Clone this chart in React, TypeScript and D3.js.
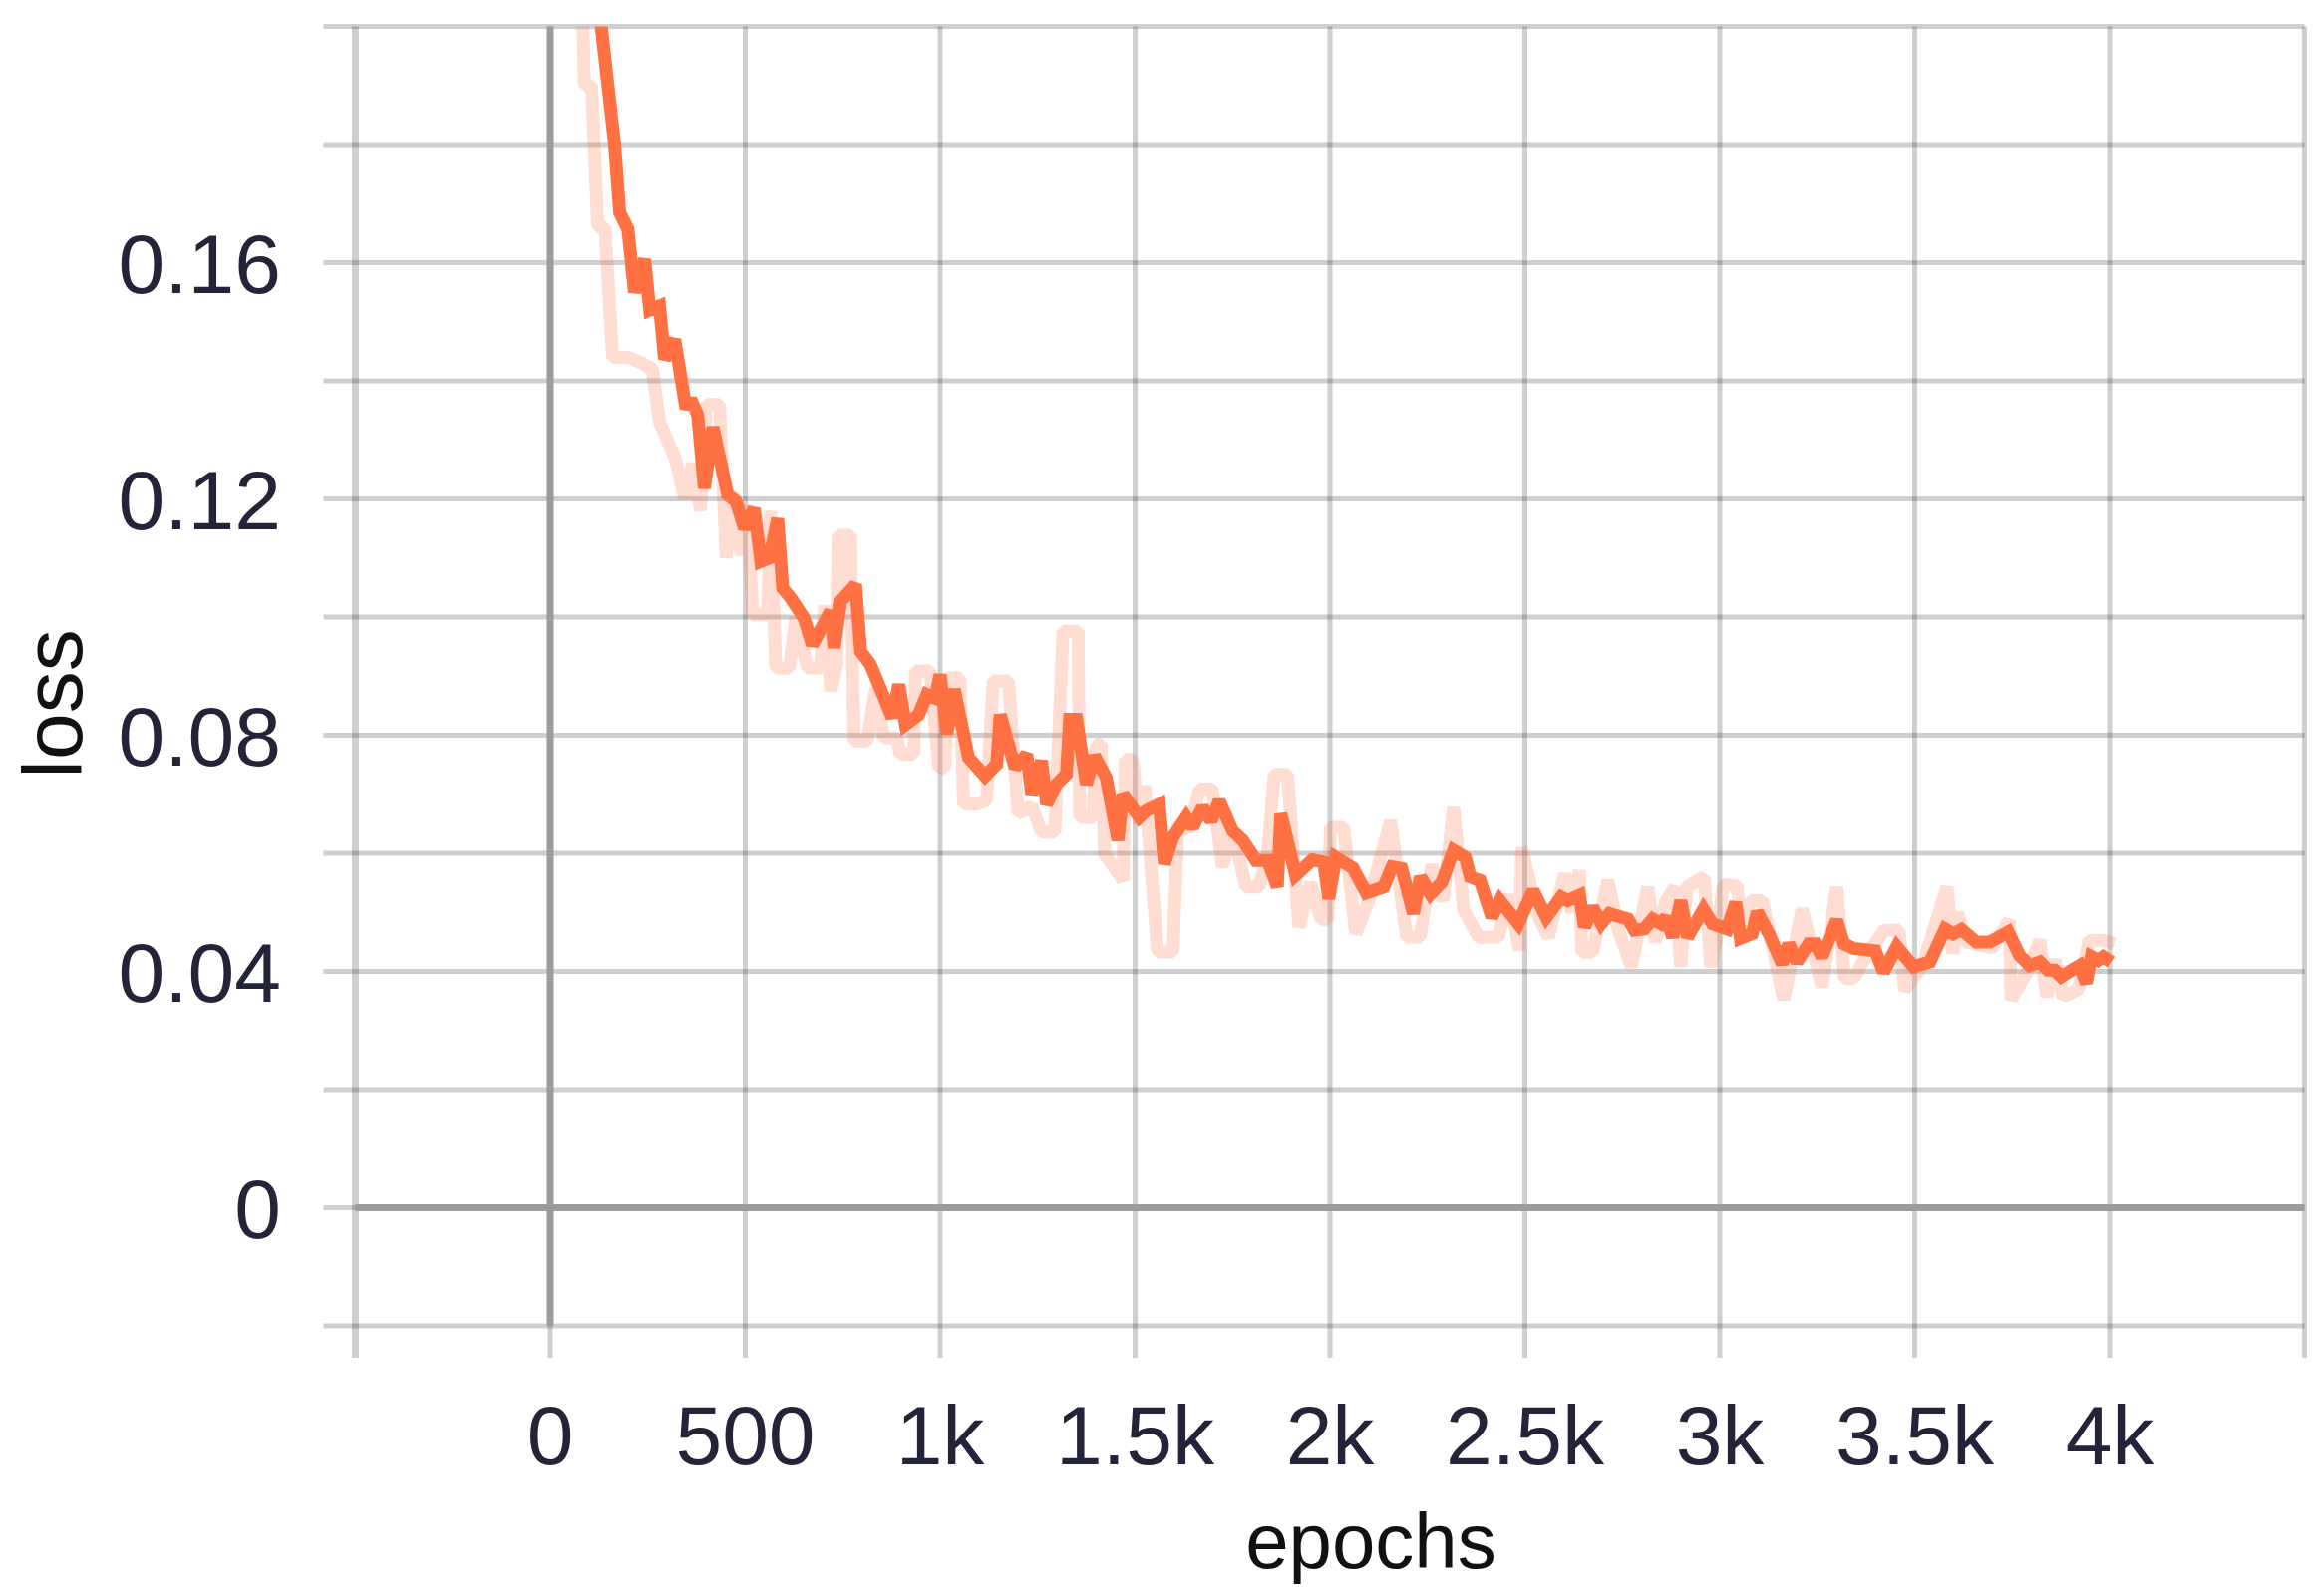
import React, { useRef, useEffect } from "react";
import * as d3 from "d3";

// smoothed training loss (the bold orange line)
const smoothEpochs = [
  112, 165, 178, 199, 216, 242, 255, 280, 293, 319, 348, 360, 378, 395, 417, 455, 476, 498, 523, 540,
  562, 583, 596, 617, 651, 672, 719, 728, 745, 783, 796, 821, 877, 894, 911, 945, 966, 987, 1000, 1017,
  1036, 1073, 1115, 1145, 1154, 1192, 1222, 1235, 1260, 1273, 1298, 1324, 1332, 1350, 1375, 1396, 1426, 1456, 1469, 1511,
  1528, 1562, 1575, 1597, 1631, 1648, 1673, 1695, 1716, 1750, 1776, 1810, 1840, 1865, 1874, 1912, 1955, 1984, 1997, 2015,
  2059, 2093, 2138, 2159, 2184, 2214, 2232, 2258, 2287, 2317, 2347, 2360, 2385, 2415, 2436, 2483, 2521, 2555, 2593, 2610,
  2640, 2653, 2674, 2696, 2717, 2747, 2764, 2781, 2806, 2828, 2849, 2862, 2879, 2900, 2917, 2958, 2981, 3019, 3041, 3053,
  3083, 3096, 3126, 3160, 3177, 3198, 3228, 3245, 3262, 3300, 3318, 3343, 3399, 3420, 3454, 3497, 3539, 3578, 3599, 3620,
  3658, 3693, 3740, 3769, 3795, 3821, 3842, 3859, 3876, 3902, 3923, 3940, 3953, 3970, 3983, 4004,
];
const smoothLoss = [
  0.211, 0.18, 0.1685, 0.1657, 0.155, 0.1606, 0.152, 0.1527, 0.1437, 0.147, 0.1353, 0.1369, 0.1342, 0.1218, 0.1322, 0.1207, 0.1196, 0.115, 0.1184, 0.1094,
  0.11, 0.1167, 0.1049, 0.1032, 0.0998, 0.0953, 0.101, 0.0948, 0.1027, 0.1055, 0.0942, 0.092, 0.083, 0.0886, 0.0818, 0.0835, 0.0869, 0.0863, 0.0903, 0.0802,
  0.0878, 0.0762, 0.0731, 0.0751, 0.0835, 0.0745, 0.0768, 0.07, 0.0757, 0.0683, 0.0717, 0.0734, 0.0827, 0.0827, 0.0717, 0.0765, 0.0728, 0.0622, 0.07, 0.0661,
  0.0672, 0.0683, 0.0582, 0.0627, 0.0661, 0.0644, 0.0678, 0.0655, 0.0689, 0.0638, 0.0622, 0.0588, 0.0588, 0.0543, 0.0667, 0.0563, 0.0589, 0.0585, 0.0523, 0.0593,
  0.0575, 0.0533, 0.0543, 0.0577, 0.0574, 0.0498, 0.056, 0.0531, 0.0551, 0.0605, 0.0593, 0.056, 0.0554, 0.0492, 0.052, 0.0481, 0.0537, 0.0492, 0.0526, 0.052,
  0.0529, 0.0475, 0.0509, 0.0481, 0.0498, 0.0492, 0.0489, 0.047, 0.0472, 0.0489, 0.0481, 0.0492, 0.0458, 0.052, 0.0458, 0.0505, 0.0481, 0.0472, 0.0517, 0.0456,
  0.0464, 0.0501, 0.0464, 0.0413, 0.0447, 0.0416, 0.0447, 0.0447, 0.0425, 0.0487, 0.0447, 0.0439, 0.0435, 0.0399, 0.0442, 0.0408, 0.0416, 0.0472, 0.0464, 0.0471,
  0.045, 0.045, 0.0467, 0.0427, 0.041, 0.0416, 0.0402, 0.0402, 0.0391, 0.0402, 0.041, 0.038, 0.0425, 0.0419, 0.0425, 0.0416,
];

// raw training loss (the faint band behind)
const rawEpochs = [
  70, 88, 106, 122, 140, 160, 200, 235, 262, 280, 300, 320, 345, 365, 385, 400, 434, 451, 468, 489,
  505, 519, 557, 565, 578, 613, 630, 659, 693, 704, 719, 735, 741, 770, 779, 813, 835, 855, 889, 897,
  932, 937, 974, 997, 1012, 1018, 1051, 1060, 1094, 1119, 1136, 1175, 1200, 1235, 1260, 1294, 1315, 1354, 1358, 1392,
  1400, 1413, 1422, 1469, 1475, 1494, 1510, 1524, 1558, 1597, 1610, 1640, 1665, 1699, 1724, 1750, 1784, 1818, 1840, 1857,
  1891, 1920, 1950, 1976, 1995, 2001, 2035, 2066, 2100, 2155, 2197, 2231, 2260, 2290, 2317, 2343, 2381, 2432, 2460, 2486,
  2492, 2530, 2560, 2602, 2620, 2640, 2646, 2674, 2713, 2740, 2773, 2815, 2835, 2862, 2885, 2900, 2915, 2960, 2977, 2990,
  3009, 3044, 3060, 3079, 3109, 3164, 3211, 3262, 3300, 3320, 3343, 3380, 3422, 3460, 3474, 3520, 3583, 3598, 3610, 3630,
  3700, 3743, 3747, 3790, 3821, 3838, 3860, 3880, 3920, 3947, 3983, 4012,
];
const rawLoss = [
  0.232, 0.19, 0.19, 0.166, 0.166, 0.144, 0.144, 0.143, 0.142, 0.133, 0.13, 0.127, 0.12, 0.126, 0.118, 0.136, 0.136, 0.11, 0.121, 0.1105,
  0.119, 0.1004, 0.1004, 0.118, 0.0914, 0.0914, 0.1, 0.0914, 0.0914, 0.102, 0.0875, 0.092, 0.1139, 0.1139, 0.079, 0.079, 0.088, 0.0796, 0.0796, 0.0768,
  0.0768, 0.0909, 0.0909, 0.0745, 0.0745, 0.0897, 0.0897, 0.0683, 0.0683, 0.069, 0.0892, 0.0892, 0.0667, 0.068, 0.0636, 0.0636, 0.0976, 0.0976, 0.0661, 0.0661,
  0.0785, 0.0785, 0.0599, 0.0554, 0.0759, 0.0759, 0.065, 0.0715, 0.0433, 0.0433, 0.065, 0.064, 0.0709, 0.0709, 0.0577, 0.064, 0.0543, 0.0543, 0.06, 0.0734,
  0.0734, 0.0475, 0.055, 0.0489, 0.0487, 0.0644, 0.0644, 0.0464, 0.052, 0.0655, 0.0458, 0.0458, 0.058, 0.052, 0.0678, 0.0504, 0.0458, 0.0458, 0.053, 0.0436,
  0.061, 0.05, 0.0458, 0.0565, 0.05, 0.0571, 0.0433, 0.0433, 0.0554, 0.047, 0.0408, 0.0543, 0.045, 0.052, 0.0543, 0.0408, 0.0543, 0.056, 0.0408, 0.045,
  0.0546, 0.0546, 0.045, 0.052, 0.052, 0.0352, 0.0506, 0.0374, 0.0543, 0.0388, 0.0388, 0.043, 0.047, 0.047, 0.0368, 0.041, 0.0543, 0.043, 0.05, 0.045,
  0.044, 0.0487, 0.0352, 0.04, 0.0453, 0.0357, 0.042, 0.0357, 0.037, 0.0453, 0.0453, 0.0447,
];

const xTickLabels = [0, 500, 1000, 1500, 2000, 2500, 3000, 3500, 4000];
const yTickLabels = [0, 0.04, 0.08, 0.12, 0.16];

export default function App() {
  const svgRef = useRef<SVGSVGElement>(null);

  useEffect(() => {
    const W = 2331, H = 1598;
    const plot = { left: 356.5, right: 2311.5, top: 26.6, bottom: 1330 };
    const font = "'Liberation Sans', Arial, Helvetica, sans-serif";

    const svg = d3.select(svgRef.current)
      .attr("width", W)
      .attr("height", H)
      .attr("viewBox", `0 0 ${W} ${H}`);
    svg.selectAll("*").remove();

    const x = d3.scaleLinear().domain([-500, 4500]).range([plot.left, plot.right]);
    const y = d3.scaleLinear().domain([-0.02, 0.2]).range([plot.bottom, plot.top]);

    svg.append("rect").attr("width", W).attr("height", H).attr("fill", "#fff");

    // grid (semi-transparent so crossings come out darker)
    const grid = svg.append("g").attr("stroke", "#000").attr("stroke-opacity", 0.19).attr("stroke-width", 5);
    grid.selectAll(".hgrid")
      .data(y.ticks(11))
      .join("line")
        .attr("class", "hgrid")
        .attr("x1", plot.left - 32)
        .attr("x2", plot.right)
        .attr("y1", d => y(d))
        .attr("y2", d => y(d));
    grid.selectAll(".vgrid")
      .data(x.ticks(10))
      .join("line")
        .attr("class", "vgrid")
        .attr("x1", d => x(d))
        .attr("x2", d => x(d))
        .attr("y1", plot.top)
        .attr("y2", plot.bottom + 32)
        .attr("stroke-width", d => (d === -500 ? 7 : 5));

    // zero lines
    svg.append("line")
      .attr("x1", plot.left).attr("x2", plot.right)
      .attr("y1", y(0)).attr("y2", y(0))
      .attr("stroke", "#9c9c9c").attr("stroke-width", 7);
    svg.append("line")
      .attr("x1", x(0)).attr("x2", x(0))
      .attr("y1", plot.top).attr("y2", plot.bottom)
      .attr("stroke", "#9c9c9c").attr("stroke-width", 7);

    // data
    svg.append("clipPath").attr("id", "plot-clip")
      .append("rect")
        .attr("x", plot.left).attr("y", plot.top)
        .attr("width", plot.right - plot.left).attr("height", plot.bottom - plot.top);

    const line = d3.line<[number, number]>()
      .x(d => x(d[0]))
      .y(d => y(d[1]));

    const raw = rawEpochs.map((e, i) => [e, rawLoss[i]] as [number, number]);
    const smooth = smoothEpochs.map((e, i) => [e, smoothLoss[i]] as [number, number]);

    const lines = svg.append("g").attr("clip-path", "url(#plot-clip)");
    lines.append("path")
      .attr("d", line(raw))
      .attr("fill", "none")
      .attr("stroke", "#ff7043")
      .attr("stroke-opacity", 0.24)
      .attr("stroke-width", 13)
      .attr("stroke-linejoin", "bevel");
    lines.append("path")
      .attr("d", line(smooth))
      .attr("fill", "none")
      .attr("stroke", "#ff7043")
      .attr("stroke-width", 13)
      .attr("stroke-linejoin", "miter")
      .attr("stroke-miterlimit", 2);

    // tick labels
    svg.selectAll(".ylab")
      .data(yTickLabels)
      .join("text")
        .attr("class", "ylab")
        .attr("x", 282)
        .attr("y", d => y(d) + 30)
        .attr("text-anchor", "end")
        .attr("font-size", 84)
        .attr("font-family", font)
        .attr("fill", "#23233a")
        .text(d => (d === 0 ? "0" : d.toFixed(2)));

    svg.selectAll(".xlab")
      .data(xTickLabels)
      .join("text")
        .attr("class", "xlab")
        .attr("x", d => x(d))
        .attr("y", 1469)
        .attr("text-anchor", "middle")
        .attr("font-size", 84)
        .attr("font-family", font)
        .attr("fill", "#23233a")
        .text(d => (d >= 1000 ? `${d / 1000}k` : `${d}`));

    // axis titles
    svg.append("text")
      .attr("transform", "translate(82,706) rotate(-90)")
      .attr("text-anchor", "middle")
      .attr("font-size", 84)
      .attr("font-family", font)
      .attr("fill", "#111")
      .text("loss");

    svg.append("text")
      .attr("x", 1375)
      .attr("y", 1573)
      .attr("text-anchor", "middle")
      .attr("font-size", 78)
      .attr("font-family", font)
      .attr("fill", "#111")
      .text("epochs");
  }, []);

  return (
    <svg
      ref={svgRef}
      style={{ position: "absolute", left: 0, top: 0, display: "block" }}
    />
  );
}
